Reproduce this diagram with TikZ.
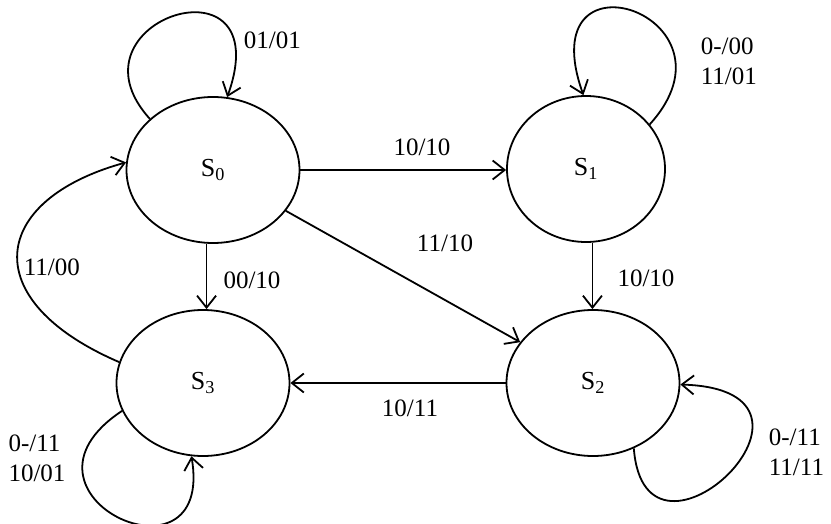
\documentclass[tikz,border=0pt]{standalone}
\usepackage{fontspec}
\setmainfont{Liberation Serif}
\usetikzlibrary{arrows.meta,shapes.geometric}
\begin{document}
\begin{tikzpicture}[x=1pt,y=-1pt,line width=1.8pt,
  state/.style={draw,ellipse,inner sep=0pt,minimum width=173pt,minimum height=146pt,font=\fontsize{26}{30}\selectfont},
  lbl/.style={font=\fontsize{25}{30}\selectfont,align=left,inner sep=0pt},
  arr/.style={-{Straight Barb[length=12pt,width=19pt]}}]
\useasboundingbox (0,0) rectangle (831,524);
\node[state] (S0) at (213,170) {S\textsubscript{0}};
\node[state,minimum width=158pt] (S1) at (586,169) {S\textsubscript{1}};
\node[state] (S2) at (593,383) {S\textsubscript{2}};
\node[state] (S3) at (203,383) {S\textsubscript{3}};
% transitions
\draw[arr] (S0.east) -- (S0.east -| S1.west);
\draw[arr] (S0.-95) -- (S0.-95 |- S3.north);
\draw[arr] (S1.-85) -- (S1.-85 |- S2.north);
\draw[arr] (S0) -- (S2);
\draw[arr] (S2.west) -- (S3.east);
\draw[arr] (S3.166) .. controls (-25,300) and (-10,200) .. (S0.175);
% self loops
\draw[arr] (S0.141) .. controls (60,20) and (280,-50) .. (S0.79);
\draw[arr] (S1.35) .. controls (749,15) and (529,-58) .. (S1.92);
\draw[arr] (S2.-58) .. controls (645,595) and (860,390) .. (S2.-1);
\draw[arr] (S3.199) .. controls (-5,495) and (215,595) .. (S3.261);
% labels
\node[lbl] (l1) at (422,147) {10/10};
\node[lbl] (l2) at (252,280) {00/10};
\node[lbl] (l3) at (646,278) {10/10};
\node[lbl] (l4) at (445,243) {11/10};
\node[lbl] (l5) at (410,408) {10/11};
\node[lbl,anchor=west] (l6) at (23,267) {11/00};
\node[lbl,anchor=west] (l7) at (243,40) {01/01};
\node[lbl,anchor=west] (l8) at (700,61) {0-/00\\11/01};
\node[lbl,anchor=west] (l9) at (768,452) {0-/11\\11/11};
\node[lbl] (l10) at (37,458) {0-/11\\10/01};
\end{tikzpicture}
\end{document}
